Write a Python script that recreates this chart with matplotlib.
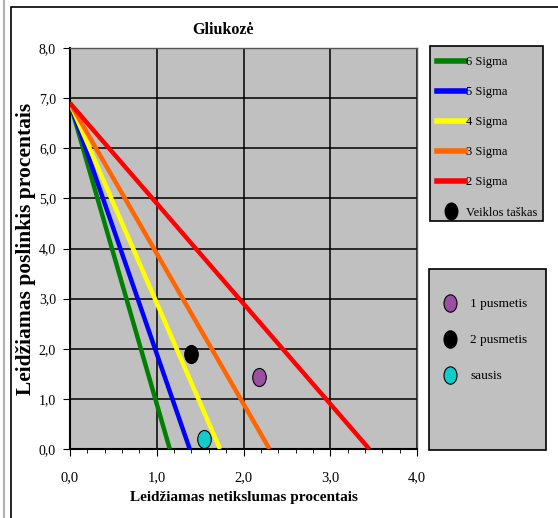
import matplotlib
matplotlib.use("Agg")
import matplotlib.pyplot as plt
from matplotlib.path import Path
from matplotlib.lines import Line2D
from matplotlib.patches import Rectangle
from matplotlib.ticker import MultipleLocator

plt.rcParams['font.family'] = ['Liberation Serif', 'DejaVu Serif']

# data
sigma_labels = ["6 Sigma", "5 Sigma", "4 Sigma", "3 Sigma", "2 Sigma"]
sigma_colors = ["#008000", "#0000FF", "#FFFF00", "#FF6600", "#FF0000"]
line_y0 = 6.9
line_x_end = [1.15, 1.38, 1.73, 2.30, 3.45]

point_labels = ["1 pusmetis", "2 pusmetis", "sausis"]
point_x = [2.18, 1.40, 1.54]
point_y = [1.43, 1.90, 0.20]
point_colors = ["#9B4FA3", "#000000", "#12CCCC"]

x_ticks = [0, 1, 2, 3, 4]
x_ticklabels = ["0,0", "1,0", "2,0", "3,0", "4,0"]
y_ticks = [0, 1, 2, 3, 4, 5, 6, 7, 8]
y_ticklabels = ["0,0", "1,0", "2,0", "3,0", "4,0", "5,0", "6,0", "7,0", "8,0"]

W, H = 558, 518


def fx(px):
    return px / W


def fy(py):
    return 1 - py / H


# ellipse shaped marker (taller than wide)
circ = Path.unit_circle()
ellipse = Path(circ.vertices * [0.75, 1.0], circ.codes)

fig = plt.figure(figsize=(W / 100, H / 100), dpi=100)
fig.patch.set_facecolor("white")

# outer chart frame
fig.add_artist(Rectangle((fx(11), -0.05), 1.0, fy(7) + 0.05, transform=fig.transFigure,
                         fill=False, edgecolor="black", lw=1.2))
fig.add_artist(Line2D([fx(4), fx(4)], [0, 1], transform=fig.transFigure, color="#b0b0b0", lw=1.5))

ax = fig.add_axes([fx(70), fy(449), (417 - 70) / W, (449 - 48) / H])
ax.set_facecolor("#C0C0C0")

for lab, col, xe in zip(sigma_labels, sigma_colors, line_x_end):
    ax.plot([0, xe], [line_y0, 0], color=col, lw=3.2, solid_capstyle="butt", label=lab, zorder=3)

for lab, col, px, py in zip(point_labels, point_colors, point_x, point_y):
    ax.plot(px, py, linestyle="none", marker=ellipse, markersize=13, markerfacecolor=col,
            markeredgecolor="black", markeredgewidth=0.8, zorder=4)

ax.set_xlim(0, 4)
ax.set_ylim(0, 8)
ax.set_xticks(x_ticks)
ax.set_xticklabels(x_ticklabels)
ax.set_yticks(y_ticks)
ax.set_yticklabels(y_ticklabels)
ax.xaxis.set_minor_locator(MultipleLocator(0.2))
ax.tick_params(axis="x", which="major", direction="out", length=5, pad=11, labelsize=10.5)
ax.tick_params(axis="x", which="minor", direction="out", length=3)
ax.tick_params(axis="y", which="major", direction="out", length=5, pad=5, labelsize=10)
ax.grid(True, which="major", color="black", lw=1.1)
ax.set_axisbelow(True)

for s in ["left", "bottom"]:
    ax.spines[s].set_color("black")
    ax.spines[s].set_linewidth(1.5)
for s in ["top", "right"]:
    ax.spines[s].set_color("#555555")
    ax.spines[s].set_linewidth(1.0)

fig.text(fx(223), fy(30), "Gliukozė", fontsize=11.5, fontweight="bold", ha="center", va="center")
ax.set_xlabel("Leidžiamas netikslumas procentais", fontsize=11, fontweight="bold", labelpad=5)
ax.set_ylabel("Leidžiamas poslinkis procentais", fontsize=15.5, fontweight="bold", labelpad=2)

# legend boxes drawn as figure rectangles
for x0, y0, x1, y1 in [(430, 46, 543, 221), (429, 269, 546, 450)]:
    fig.add_artist(Rectangle((fx(x0), fy(y1)), (x1 - x0) / W, (y1 - y0) / H, transform=fig.transFigure,
                             facecolor="#C0C0C0", edgecolor="black", lw=1.2, zorder=1))

# legend 1: sigma lines and the operating point symbol
h1 = [Line2D([], [], color=c, lw=4) for c in sigma_colors]
h1.append(Line2D([], [], linestyle="none", marker=ellipse, markersize=12, markerfacecolor="black",
                 markeredgecolor="black"))
leg1 = fig.legend(h1, sigma_labels + ["Veiklos taškas"], loc="upper left",
                  bbox_to_anchor=(fx(437), fy(56)), bbox_transform=fig.transFigure,
                  fontsize=9, frameon=False, handlelength=2.2, handletextpad=0.1,
                  labelspacing=1.45, borderpad=0, borderaxespad=0)
leg1.set_zorder(2)

# legend 2: measurement periods
h2 = [Line2D([], [], linestyle="none", marker=ellipse, markersize=12.5, markerfacecolor=c,
             markeredgecolor="black", markeredgewidth=0.8) for c in point_colors]
leg2 = fig.legend(h2, point_labels, loc="upper left",
                  bbox_to_anchor=(fx(441), fy(298)), bbox_transform=fig.transFigure,
                  fontsize=9.5, frameon=False, handlelength=1.3, handletextpad=0.9,
                  labelspacing=1.8, borderpad=0, borderaxespad=0)
leg2.set_zorder(2)

fig.savefig("out.png", dpi=100)
